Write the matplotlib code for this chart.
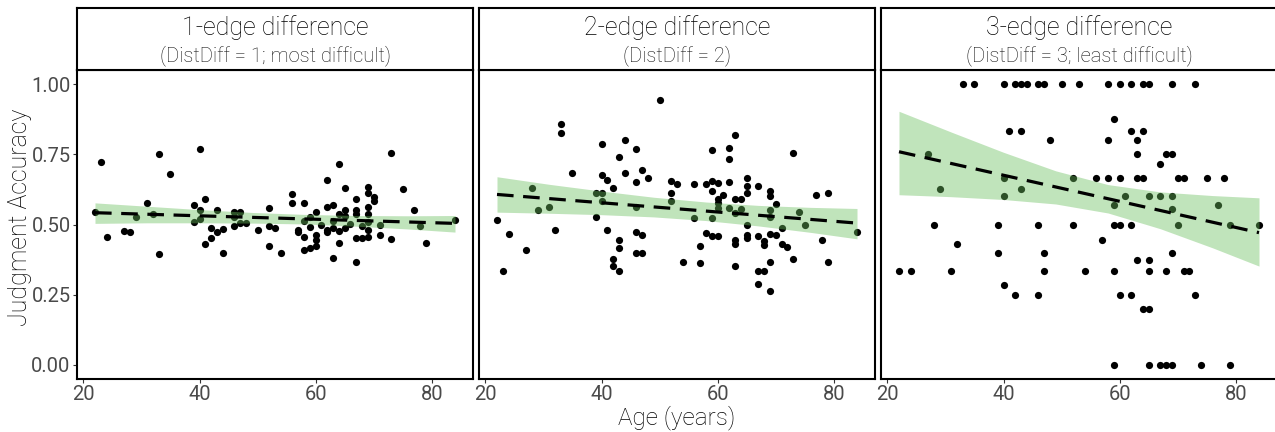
import numpy as np
import matplotlib
matplotlib.use('Agg')
import matplotlib.pyplot as plt

plt.rcParams['font.family'] = ['Roboto', 'DejaVu Sans']

# panel 1: DistDiff = 1
ages1 = [22, 23, 24, 27, 28, 29, 31, 32, 33, 33, 35, 39, 39, 40, 40, 40, 41, 41, 42, 42,
         43, 43, 44, 44, 46, 46, 46, 47, 47, 48, 50, 52, 52, 52, 53, 54, 56, 56, 57, 57,
         58, 58, 58, 58, 59, 59, 59, 60, 60, 60, 60, 61, 62, 62, 62, 62, 63, 63, 63, 63,
         64, 64, 64, 64, 65, 65, 65, 65, 66, 67, 67, 67, 67, 67, 68, 68, 69, 69, 69, 69,
         69, 69, 69, 70, 70, 71, 71, 73, 73, 75, 77, 78, 79, 84]
acc1 = [0.545, 0.724, 0.455, 0.476, 0.472, 0.527, 0.578, 0.539, 0.751, 0.395, 0.681, 0.570, 0.508, 0.770, 0.552, 0.518, 0.590, 0.431, 0.489, 0.453,
        0.552, 0.474, 0.483, 0.400, 0.546, 0.525, 0.493, 0.543, 0.504, 0.504, 0.480, 0.557, 0.494, 0.423, 0.487, 0.397, 0.607, 0.575, 0.482, 0.474,
        0.576, 0.514, 0.455, 0.408, 0.527, 0.491, 0.417, 0.546, 0.461, 0.444, 0.423, 0.500, 0.658, 0.564, 0.482, 0.473, 0.569, 0.512, 0.487, 0.382,
        0.716, 0.538, 0.476, 0.434, 0.629, 0.550, 0.530, 0.487, 0.502, 0.591, 0.550, 0.538, 0.453, 0.367, 0.496, 0.453, 0.633, 0.611, 0.562, 0.536,
        0.508, 0.482, 0.457, 0.597, 0.585, 0.498, 0.463, 0.754, 0.447, 0.626, 0.553, 0.493, 0.434, 0.515]

# panel 2: DistDiff = 2
ages2 = [22, 23, 24, 27, 28, 29, 31, 32, 33, 33, 35, 39, 39, 40, 40, 40, 40, 41, 41, 42,
         42, 42, 43, 43, 43, 43, 44, 44, 46, 46, 46, 46, 46, 47, 47, 47, 48, 50, 52, 52,
         52, 53, 54, 56, 56, 57, 57, 58, 58, 59, 59, 59, 59, 59, 60, 60, 60, 60, 60, 61,
         62, 62, 62, 62, 63, 63, 63, 63, 63, 63, 64, 64, 65, 65, 65, 65, 65, 65, 67, 67,
         67, 67, 68, 68, 68, 69, 69, 69, 69, 69, 69, 69, 70, 70, 71, 71, 72, 73, 73, 74,
         75, 77, 78, 79, 79, 84]
acc2 = [0.515, 0.333, 0.467, 0.408, 0.629, 0.551, 0.562, 0.482, 0.858, 0.827, 0.685, 0.526, 0.613, 0.787, 0.676, 0.613, 0.585, 0.659, 0.482, 0.629,
        0.377, 0.354, 0.742, 0.445, 0.417, 0.333, 0.801, 0.685, 0.770, 0.650, 0.563, 0.473, 0.400, 0.693, 0.461, 0.400, 0.666, 0.942, 0.656, 0.613,
        0.582, 0.644, 0.368, 0.645, 0.524, 0.425, 0.364, 0.644, 0.470, 0.764, 0.656, 0.618, 0.524, 0.458, 0.647, 0.589, 0.575, 0.558, 0.458, 0.605,
        0.774, 0.733, 0.650, 0.559, 0.819, 0.589, 0.541, 0.445, 0.429, 0.352, 0.592, 0.555, 0.666, 0.636, 0.613, 0.500, 0.464, 0.453, 0.636, 0.458,
        0.334, 0.287, 0.440, 0.428, 0.334, 0.620, 0.600, 0.553, 0.527, 0.467, 0.368, 0.263, 0.572, 0.461, 0.487, 0.429, 0.421, 0.756, 0.376, 0.545,
        0.500, 0.605, 0.445, 0.611, 0.367, 0.474]

# panel 3: DistDiff = 3
ages3 = [33, 35, 40, 42, 43, 44, 46, 47, 50, 53, 58, 60, 62, 64, 65, 69, 73,
         59,
         41, 43, 62, 64,
         48, 58, 63,
         27, 63, 68, 69,
         67,
         40, 52, 56, 58, 60, 63, 64, 70, 71, 75, 78,
         29, 43,
         40, 61, 65, 67, 69,
         59, 77,
         69,
         28, 39, 46, 52, 59, 60, 62, 70, 79, 84,
         57, 32,
         39, 47, 69,
         63, 65,
         22, 24, 31, 47, 54, 59, 65, 68, 71, 72,
         40,
         42, 46, 60, 62, 73,
         64, 65,
         59, 65, 67, 68, 69, 74, 79]
acc3 = [1.0, 1.0, 1.0, 1.0, 1.0, 1.0, 1.0, 1.0, 1.0, 1.0, 1.0, 1.0, 1.0, 1.0, 1.0, 1.0, 1.0,
        0.875,
        0.833, 0.833, 0.833, 0.833,
        0.8, 0.8, 0.8,
        0.75, 0.75, 0.75, 0.75,
        0.714,
        0.667, 0.667, 0.667, 0.667, 0.667, 0.667, 0.667, 0.667, 0.667, 0.667, 0.667,
        0.625, 0.625,
        0.6, 0.6, 0.6, 0.6, 0.6,
        0.571, 0.571,
        0.556,
        0.5, 0.5, 0.5, 0.5, 0.5, 0.5, 0.5, 0.5, 0.5, 0.5,
        0.444, 0.429,
        0.4, 0.4, 0.4,
        0.375, 0.375,
        0.333, 0.333, 0.333, 0.333, 0.333, 0.333, 0.333, 0.333, 0.333, 0.333,
        0.286,
        0.25, 0.25, 0.25, 0.25, 0.25,
        0.2, 0.2,
        0.0, 0.0, 0.0, 0.0, 0.0, 0.0, 0.0]

# linear fit and its 95% band
band_ages = [22, 31, 40, 49, 58, 67, 76, 84]
band_lo1 = [0.504, 0.506, 0.506, 0.505, 0.502, 0.494, 0.484, 0.473]
band_hi1 = [0.577, 0.565, 0.553, 0.543, 0.536, 0.532, 0.531, 0.532]
band_lo2 = [0.544, 0.540, 0.535, 0.527, 0.514, 0.495, 0.472, 0.449]
band_hi2 = [0.670, 0.643, 0.619, 0.597, 0.580, 0.568, 0.561, 0.557]
band_lo3 = [0.606, 0.599, 0.589, 0.573, 0.541, 0.485, 0.417, 0.352]
band_hi3 = [0.903, 0.829, 0.757, 0.691, 0.642, 0.616, 0.603, 0.595]
fit_ages = [22, 84]
fit1 = [0.542, 0.504]
fit2 = [0.607, 0.505]
fit3 = [0.759, 0.471]

titles = ['1-edge difference', '2-edge difference', '3-edge difference']
subtitles = ['(DistDiff = 1; most difficult)', '(DistDiff = 2)', '(DistDiff = 3; least difficult)']
xticks = [20, 40, 60, 80]
yticks = [0.0, 0.25, 0.5, 0.75, 1.0]
ytick_labels = ['0.00', '0.25', '0.50', '0.75', '1.00']

W, H = 1275, 432
fig = plt.figure(figsize=(W / 100, H / 100), dpi=100)

lefts = [77, 479, 881]
pw = 396
top, bottom, strip_top = 70, 379, 8
points = [(ages1, acc1), (ages2, acc2), (ages3, acc3)]
bands = [(band_lo1, band_hi1), (band_lo2, band_hi2), (band_lo3, band_hi3)]
fits = [fit1, fit2, fit3]

for i in range(3):
    ax = fig.add_axes([lefts[i] / W, (H - bottom) / H, pw / W, (bottom - top) / H])
    x, y = points[i]
    ax.scatter(x, y, s=27, color='black', linewidths=0, zorder=2)
    ax.fill_between(band_ages, bands[i][0], bands[i][1], color='#6abf5e', alpha=0.42,
                    linewidth=0, zorder=3)
    ax.plot(fit_ages, fits[i], color='black', lw=2.3, dashes=(5.2, 3.0), zorder=4)
    ax.set_xlim(18.9, 87.1)
    ax.set_ylim(-0.05, 1.05)
    ax.set_xticks(xticks)
    ax.set_xticklabels([str(t) for t in xticks])
    ax.set_yticks(yticks)
    if i == 0:
        ax.set_yticklabels(ytick_labels)
        ax.tick_params(axis='y', length=3, width=0.8, color='#333333', labelsize=14.5,
                       labelcolor='#4a4a4a', pad=1.5)
    else:
        ax.tick_params(axis='y', length=0, labelleft=False)
    ax.tick_params(axis='x', length=3, width=0.8, color='#333333', labelsize=14.5,
                   labelcolor='#4a4a4a', pad=1.5)
    for sp in ax.spines.values():
        sp.set_linewidth(1.5)
        sp.set_color('black')

    sax = fig.add_axes([lefts[i] / W, (H - top) / H, pw / W, (top - strip_top) / H])
    sax.set_xticks([])
    sax.set_yticks([])
    for sp in sax.spines.values():
        sp.set_linewidth(1.5)
        sp.set_color('black')
    sax.text(0.5, (top - 35) / (top - strip_top), titles[i], ha='center', va='baseline',
             fontsize=18, color='black', fontweight='light', transform=sax.transAxes)
    sax.text(0.5, (top - 61) / (top - strip_top), subtitles[i], ha='center', va='baseline',
             fontsize=14.5, color='#111111', fontweight='light', transform=sax.transAxes)

fig.text(20 / W, 1 - 217 / H, 'Judgment Accuracy', rotation=90, ha='center', va='center',
         fontsize=18, fontweight='light', color='black')
fig.text(677 / W, (H - 424) / H, 'Age (years)', ha='center', va='baseline',
         fontsize=17.5, fontweight='light', color='black')

fig.savefig('out.png', dpi=100)
